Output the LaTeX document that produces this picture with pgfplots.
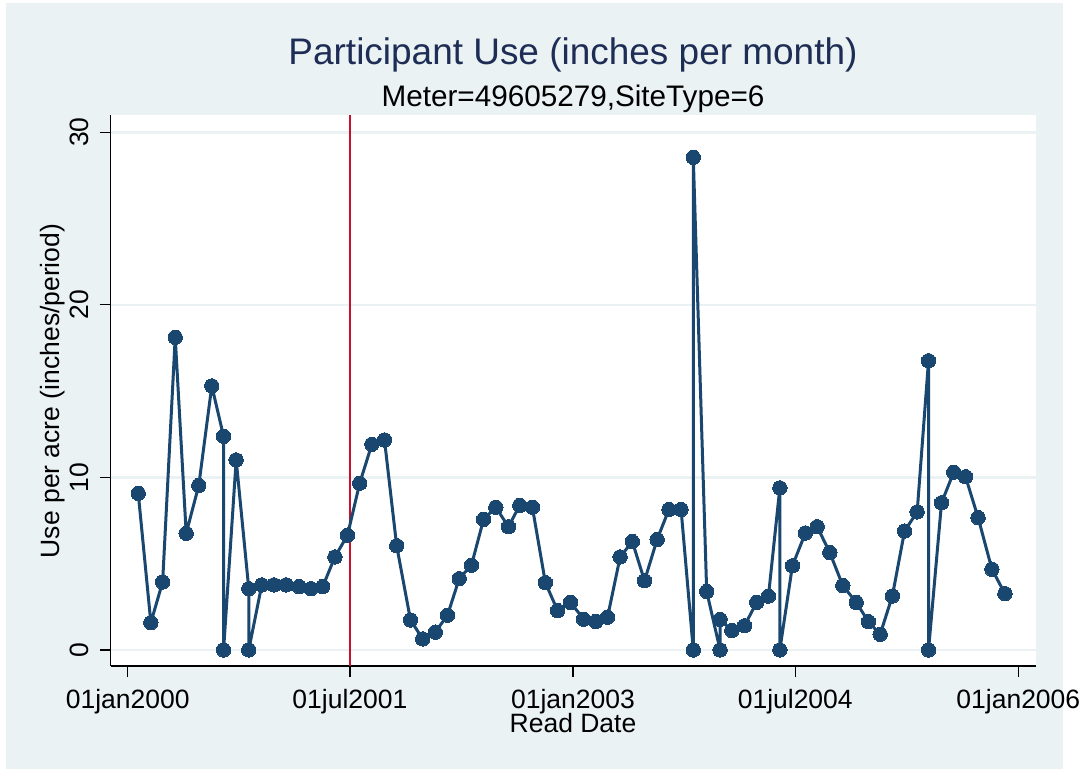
\documentclass[border=0pt]{standalone}
\usepackage{fontspec}
\setmainfont{Liberation Sans}
\usepackage{pgfplots}
\pgfplotsset{compat=1.18}
\usepackage{pgfplotstable}

\definecolor{stbg}{RGB}{234,242,243}
\definecolor{stnavy}{RGB}{26,71,111}
\definecolor{sttitle}{RGB}{30,45,85}
\definecolor{stred}{RGB}{200,16,46}

% read date (days since 01jan2000) and use per acre
\pgfplotstableread{
day  val
26   9.08
57   1.58
86   3.94
117  18.12
144  6.76
175  9.54
207  15.30
236  12.38
236  0
267  11.01
298  3.55
298  0
330  3.77
360  3.77
390  3.77
422  3.67
451  3.55
480  3.67
510  5.39
541  6.65
571  9.66
601  11.92
632  12.17
662  6.04
696  1.74
726  0.64
757  1.03
787  2.01
816  4.13
846  4.91
876  7.57
906  8.27
937  7.14
965  8.38
996  8.27
1028 3.90
1058 2.28
1090 2.76
1122 1.78
1152 1.65
1181 1.90
1212 5.39
1242 6.28
1272 4.01
1303 6.40
1332 8.14
1362 8.14
1392 0
1392 28.55
1425 3.39
1458 0
1458 1.77
1487 1.13
1518 1.40
1548 2.76
1577 3.12
1605 9.39
1605 0
1636 4.88
1668 6.78
1697 7.14
1728 5.64
1760 3.73
1793 2.76
1823 1.64
1852 0.91
1882 3.13
1912 6.89
1943 8.00
1971 16.76
1971 0
2003 8.53
2033 10.30
2062 10.04
2093 7.67
2127 4.68
2159 3.26
}\usedata

\begin{document}
\begin{tikzpicture}
% graph region
\fill[white] (0bp,0bp) rectangle (1087bp,769bp);
\fill[stbg] (6bp,0bp) rectangle (1063bp,766bp);

\begin{axis}[
  at={(110.7bp,103bp)}, anchor=south west,
  width=925.3bp, height=551bp, scale only axis,
  xmin=-41.8, xmax=2235.5, ymin=-0.93, ymax=31.0,
  axis background/.style={fill=white},
  axis x line*=bottom, axis y line*=left,
  axis line style={-, line width=1.3bp, black},
  xtick={0,547,1096,1643,2192},
  xticklabels={01jan2000,01jul2001,01jan2003,01jul2004,01jan2006},
  ytick={0,10,20,30},
  minor tick num=0,
  tick align=outside,
  major tick length=11bp,
  tick style={line width=1.3bp, black},
  ymajorgrids,
  grid style={line width=2.5bp, stbg},
  /pgf/number format/assume math mode=true,
  tick label style={font=\fontsize{26.6}{30}\selectfont, black},
  xticklabel style={anchor=north, yshift=-9bp},
  yticklabel style={xshift=-7bp, rotate=90, anchor=south},
  clip=true,
]
% reference date line
\draw[stred, line width=2.8bp] (axis cs:547,-0.93) -- (axis cs:547,31.0);
\addplot[stnavy, line width=3bp, line join=round,
  mark=*, mark size=7.2bp, mark options={solid, fill=stnavy, draw=stnavy, line width=0pt}]
  table[x=day, y=val] {\usedata};
\end{axis}

\node[anchor=base, text=sttitle, font=\fontsize{37.1}{40}\selectfont] at (573bp,704bp) {Participant Use (inches per month)};
\node[anchor=base, text=black, font=\fontsize{29.8}{33}\selectfont] at (573bp,662bp) {Meter=49605279,SiteType=6};
\node[anchor=base, text=black, font=\fontsize{26.6}{30}\selectfont] at (573bp,36.3bp) {Read Date};
\node[anchor=base, rotate=90, text=black, font=\fontsize{26.6}{30}\selectfont] at (59bp,378bp) {Use per acre (inches/period)};
\end{tikzpicture}
\end{document}
